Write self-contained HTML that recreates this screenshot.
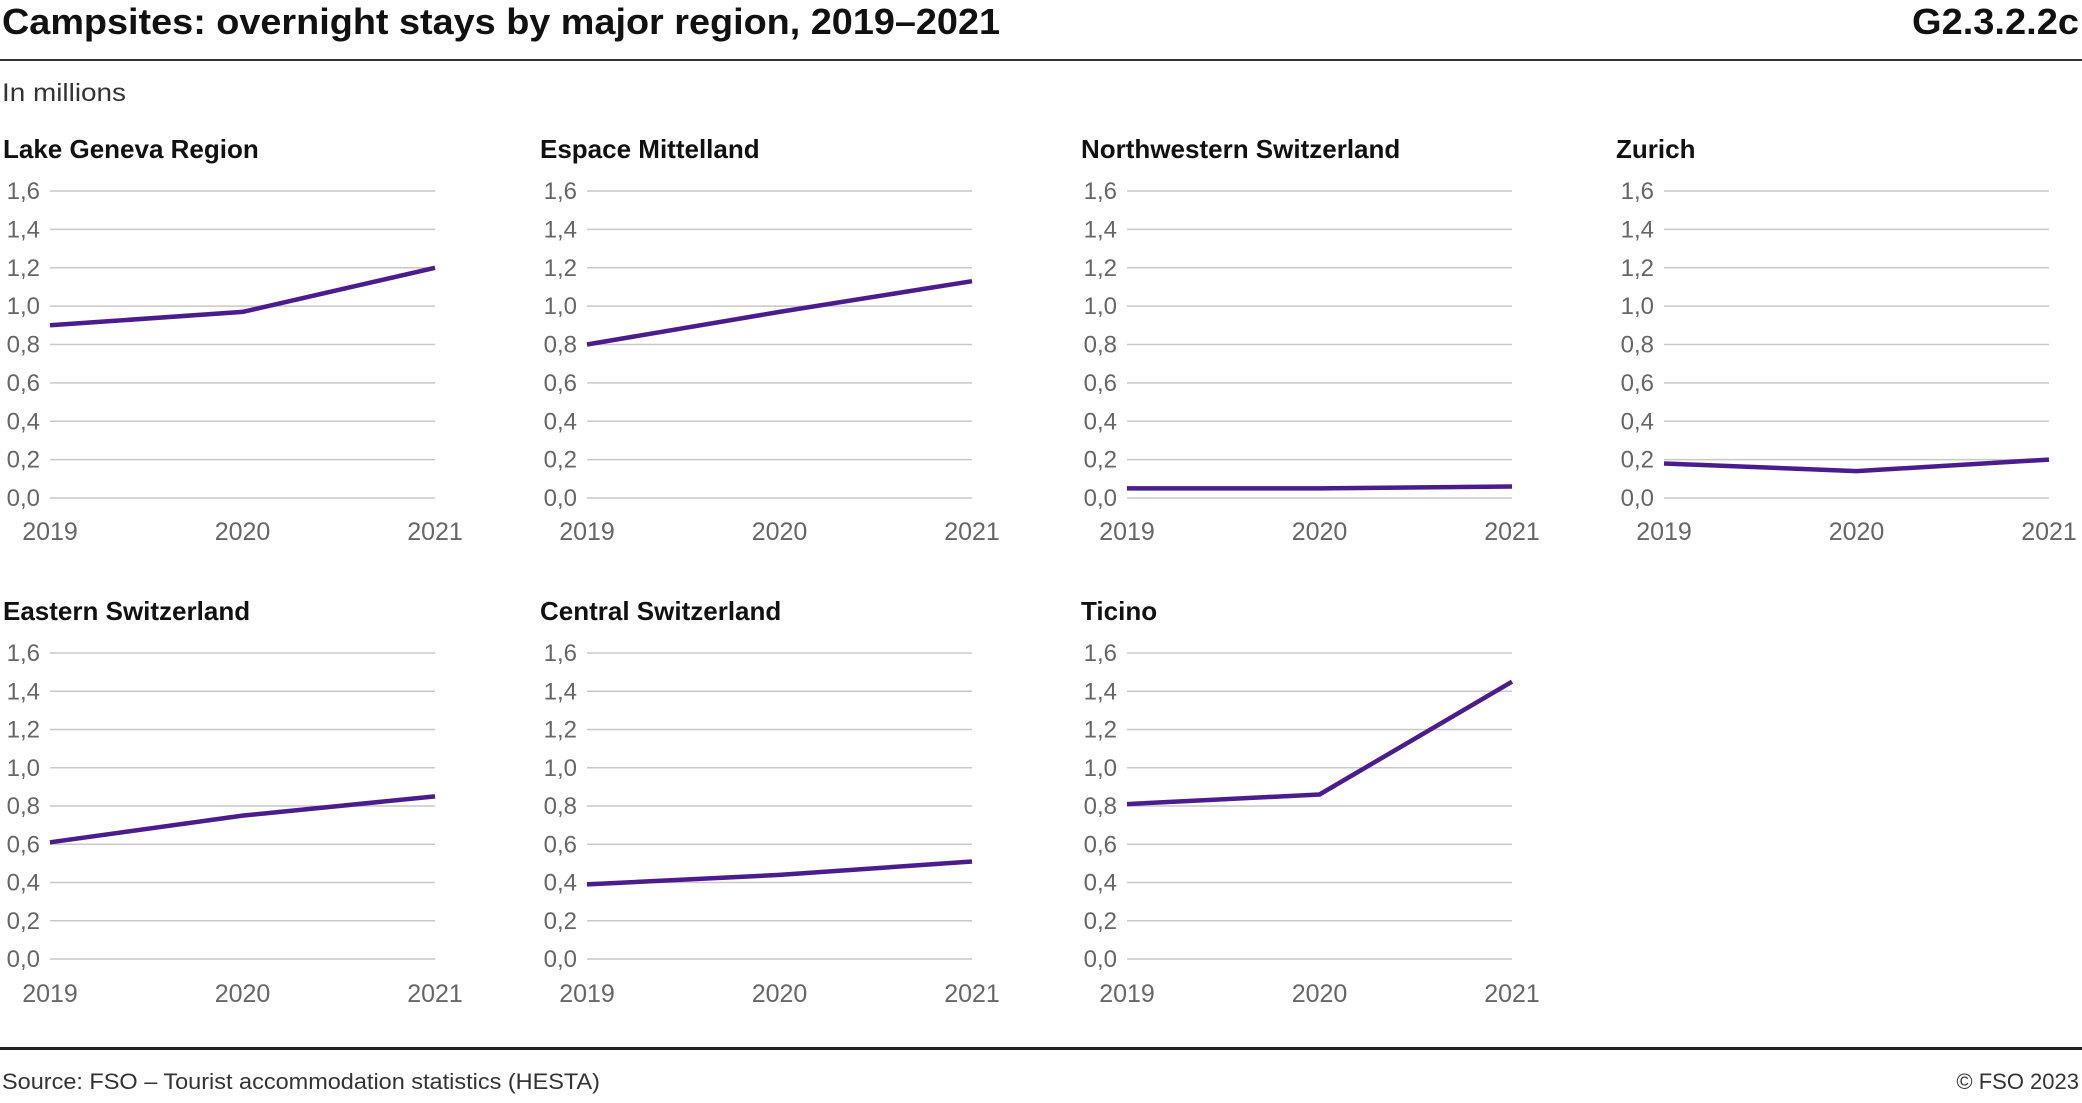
<!DOCTYPE html>
<html><head><meta charset="utf-8"><style>
html,body{margin:0;padding:0;background:#fff;}
svg{display:block;font-family:"Liberation Sans",Arial,sans-serif;}
.g{stroke:#c8c8c8;stroke-width:1.5;}
.t{fill:#666;font-size:24px;text-anchor:end;}
.x{fill:#666;font-size:25px;text-anchor:middle;}
.p{fill:#111;font-size:26px;font-weight:bold;}
.l{fill:none;stroke:#4b1c8c;stroke-width:4.5;stroke-linejoin:round;}
</style></head><body>
<svg width="2082" height="1103" viewBox="0 0 2082 1103" xmlns="http://www.w3.org/2000/svg">
<text x="2" y="34" textLength="998" lengthAdjust="spacingAndGlyphs" style="font-size:36px;font-weight:bold;fill:#111">Campsites: overnight stays by major region, 2019–2021</text>
<text x="1912" y="34" textLength="167" lengthAdjust="spacingAndGlyphs" style="font-size:36px;font-weight:bold;fill:#111">G2.3.2.2c</text>
<rect x="0" y="59" width="2082" height="2" fill="#333"/>
<text x="2" y="101" textLength="124" lengthAdjust="spacingAndGlyphs" style="font-size:25px;fill:#333">In millions</text>

<defs>
<g id="r1">
<line class="g" x1="0" x2="385" y1="191" y2="191"/><line class="g" x1="0" x2="385" y1="229.4" y2="229.4"/><line class="g" x1="0" x2="385" y1="267.8" y2="267.8"/><line class="g" x1="0" x2="385" y1="306.1" y2="306.1"/><line class="g" x1="0" x2="385" y1="344.5" y2="344.5"/><line class="g" x1="0" x2="385" y1="382.9" y2="382.9"/><line class="g" x1="0" x2="385" y1="421.3" y2="421.3"/><line class="g" x1="0" x2="385" y1="459.6" y2="459.6"/><line class="g" x1="0" x2="385" y1="498" y2="498"/>
<text class="t" x="-10" y="199">1,6</text><text class="t" x="-10" y="237.4">1,4</text><text class="t" x="-10" y="275.8">1,2</text><text class="t" x="-10" y="314.1">1,0</text><text class="t" x="-10" y="352.5">0,8</text><text class="t" x="-10" y="390.9">0,6</text><text class="t" x="-10" y="429.3">0,4</text><text class="t" x="-10" y="467.6">0,2</text><text class="t" x="-10" y="506">0,0</text>
<text class="x" x="0" y="540">2019</text><text class="x" x="192.5" y="540">2020</text><text class="x" x="385" y="540">2021</text>
</g>
<g id="r2">
<line class="g" x1="0" x2="385" y1="653" y2="653"/><line class="g" x1="0" x2="385" y1="691.3" y2="691.3"/><line class="g" x1="0" x2="385" y1="729.5" y2="729.5"/><line class="g" x1="0" x2="385" y1="767.8" y2="767.8"/><line class="g" x1="0" x2="385" y1="806" y2="806"/><line class="g" x1="0" x2="385" y1="844.3" y2="844.3"/><line class="g" x1="0" x2="385" y1="882.5" y2="882.5"/><line class="g" x1="0" x2="385" y1="920.8" y2="920.8"/><line class="g" x1="0" x2="385" y1="959" y2="959"/>
<text class="t" x="-10" y="661">1,6</text><text class="t" x="-10" y="699.3">1,4</text><text class="t" x="-10" y="737.5">1,2</text><text class="t" x="-10" y="775.8">1,0</text><text class="t" x="-10" y="814">0,8</text><text class="t" x="-10" y="852.3">0,6</text><text class="t" x="-10" y="890.5">0,4</text><text class="t" x="-10" y="928.8">0,2</text><text class="t" x="-10" y="967">0,0</text>
<text class="x" x="0" y="1002">2019</text><text class="x" x="192.5" y="1002">2020</text><text class="x" x="385" y="1002">2021</text>
</g>
</defs>

<text class="p" x="3" y="158">Lake Geneva Region</text>
<text class="p" x="540" y="158">Espace Mittelland</text>
<text class="p" x="1081" y="158">Northwestern Switzerland</text>
<text class="p" x="1616" y="158">Zurich</text>
<text class="p" x="3" y="620">Eastern Switzerland</text>
<text class="p" x="540" y="620">Central Switzerland</text>
<text class="p" x="1081" y="620">Ticino</text>

<g transform="translate(50,0)"><use href="#r1"/><polyline class="l" points="0,325.3 192.5,311.9 385,267.8"/></g>
<g transform="translate(587,0)"><use href="#r1"/><polyline class="l" points="0,344.5 192.5,311.9 385,281.2"/></g>
<g transform="translate(1127,0)"><use href="#r1"/><polyline class="l" points="0,488.4 192.5,488.4 385,486.5"/></g>
<g transform="translate(1664,0)"><use href="#r1"/><polyline class="l" points="0,463.5 192.5,471.1 385,459.6"/></g>
<g transform="translate(50,0)"><use href="#r2"/><polyline class="l" points="0,842.3 192.5,815.6 385,796.4"/></g>
<g transform="translate(587,0)"><use href="#r2"/><polyline class="l" points="0,884.4 192.5,874.9 385,861.5"/></g>
<g transform="translate(1127,0)"><use href="#r2"/><polyline class="l" points="0,804.1 192.5,794.5 385,681.7"/></g>

<rect x="0" y="1047" width="2082" height="3" fill="#222"/>
<text x="2" y="1089" textLength="598" lengthAdjust="spacingAndGlyphs" style="font-size:22px;fill:#333">Source: FSO – Tourist accommodation statistics (HESTA)</text>
<text x="2079" y="1089" style="font-size:22px;fill:#333;text-anchor:end">© FSO 2023</text>
</svg>
</body></html>
